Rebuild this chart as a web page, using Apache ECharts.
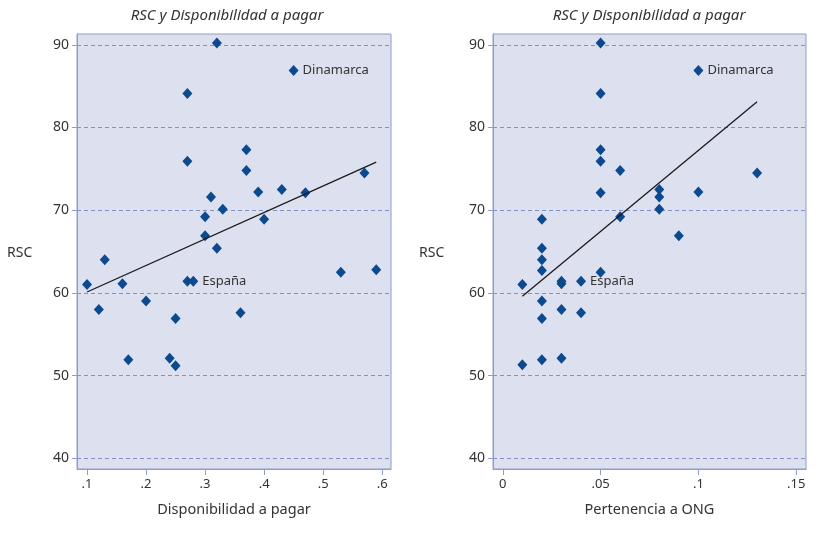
<!DOCTYPE html>
<html><head><meta charset="utf-8">
<script src="https://cdn.jsdelivr.net/npm/echarts@6/dist/echarts.min.js"></script>
<style>html,body{margin:0;padding:0;background:#fff}#c{width:825px;height:549px}</style>
</head><body><div id="c"></div>
<script>
// Data
const rsc       = [90.2, 86.9, 84.1, 77.3, 75.9, 74.8, 74.5, 72.2, 72.5, 72.1, 71.6, 70.1, 69.2, 68.9, 66.9, 65.4, 64.0, 61.0, 61.1, 61.4, 61.4, 62.5, 62.8, 59.0, 58.0, 56.9, 57.6, 51.9, 52.1, 51.2];
const dispPagar = [0.32, 0.45, 0.27, 0.37, 0.27, 0.37, 0.57, 0.39, 0.43, 0.47, 0.31, 0.33, 0.30, 0.40, 0.30, 0.32, 0.13, 0.10, 0.16, 0.27, 0.28, 0.53, 0.59, 0.20, 0.12, 0.25, 0.36, 0.17, 0.24, 0.25];
const pertONG   = [0.05, 0.10, 0.05, 0.05, 0.05, 0.06, 0.13, 0.10, 0.08, 0.05, 0.08, 0.08, 0.06, 0.02, 0.09, 0.02, 0.02, 0.01, 0.03, 0.03, 0.04, 0.05, 0.02, 0.02, 0.03, 0.02, 0.04, 0.02, 0.03, 0.01];
const rscRight  = [90.2, 86.9, 84.1, 77.3, 75.9, 74.8, 74.5, 72.2, 72.5, 72.1, 71.6, 70.1, 69.2, 68.9, 66.9, 65.4, 64.0, 61.0, 61.1, 61.4, 61.4, 62.5, 62.7, 59.0, 58.0, 56.9, 57.6, 51.9, 52.1, 51.3];
const pointLabels = ['', 'Dinamarca', '', '', '', '', '', '', '', '', '', '', '', '', '', '', '', '', '', '', 'España', '', '', '', '', '', '', '', '', ''];
const fitLeftX  = [0.10, 0.59];
const fitLeftY  = [60.1, 75.8];
const fitRightX = [0.01, 0.13];
const fitRightY = [59.6, 83.1];
const yTicks = [40, 50, 60, 70, 80, 90];
const xTicksLeft = [0.1, 0.2, 0.3, 0.4, 0.5, 0.6];
const xTicksRight = [0, 0.05, 0.10, 0.15];
const title = 'RSC y Disponibilidad a pagar';
const yName = 'RSC';
const xNameLeft = 'Disponibilidad a pagar';
const xNameRight = 'Pertenencia a ONG';

const font = 'Noto Sans';
const txt = '#333333';
const frame = '#8e9dcc';
const grid = '#8190c9';
const mark = '#0b4a8f';

function fmtLeft(v){ return ('' + (+v.toFixed(2))).replace(/^0/, ''); }
function fmtRight(v){ if (Math.abs(v) < 1e-9) return '0'; return ('' + (+v.toFixed(2))).replace(/^0/, ''); }

function xAxis(gi, min, max, ticks, fmt, name){
  return {
    type: 'value', gridIndex: gi, min: min, max: max,
    name: name, nameLocation: 'middle', nameGap: 33,
    nameTextStyle: {fontFamily: font, fontSize: 14.5, color: txt},
    axisLine: {show: true, onZero: false, lineStyle: {color: frame, width: 1}},
    axisTick: {show: true, length: 6, customValues: ticks, lineStyle: {color: frame}},
    axisLabel: {customValues: ticks, formatter: fmt, fontFamily: font, fontSize: 13, color: txt, margin: 9},
    splitLine: {show: false}
  };
}
function yAxis(gi){
  return {
    type: 'value', gridIndex: gi, min: 38.7, max: 91.3,
    axisLine: {show: true, onZero: false, lineStyle: {color: frame, width: 1}},
    axisTick: {show: true, length: 5, customValues: yTicks, lineStyle: {color: frame}},
    axisLabel: {customValues: yTicks, fontFamily: font, fontSize: 14, color: txt, margin: 8},
    splitLine: {show: true, lineStyle: {color: grid, type: [4, 3], width: 1}}
  };
}
function pts(xs, ys){ return xs.map((x, i) => ({value: [x, ys[i]], label: {show: !!pointLabels[i], formatter: pointLabels[i]}})); }
function scatter(xi, xs, ys){
  return {
    type: 'scatter', xAxisIndex: xi, yAxisIndex: xi, data: pts(xs, ys),
    symbol: 'diamond', symbolSize: [10, 11],
    itemStyle: {color: mark, opacity: 1},
    label: {position: 'right', distance: 4, fontFamily: font, fontSize: 13, color: txt},
    z: 3
  };
}
function fit(xi, xs, ys){
  return {
    type: 'line', xAxisIndex: xi, yAxisIndex: xi, data: xs.map((x, i) => [x, ys[i]]),
    showSymbol: false, symbol: 'none', lineStyle: {color: '#1a1a1a', width: 1.3}, z: 4, silent: true
  };
}
const ttl = {fontFamily: font, fontSize: 15, fontStyle: 'italic', fontWeight: 'normal', color: txt};
const yn = {fontFamily: font, fontSize: 14, fontWeight: 'normal', color: txt};

const chart = echarts.init(document.getElementById('c'), null, {renderer: 'canvas'});
chart.setOption({
  animation: false,
  backgroundColor: '#ffffff',
  title: [
    {text: title, left: 227, top: 8, padding: 0, textAlign: 'center', textStyle: ttl},
    {text: title, left: 649, top: 8, padding: 0, textAlign: 'center', textStyle: ttl},
    {text: yName, left: 7, top: 246, padding: 0, textStyle: yn},
    {text: yName, left: 419, top: 246, padding: 0, textStyle: yn}
  ],
  grid: [
    {left: 77, right: 434, top: 34, bottom: 80, show: true, backgroundColor: '#dde0ef', borderColor: frame, borderWidth: 1},
    {left: 493, right: 19, top: 34, bottom: 80, show: true, backgroundColor: '#dde0ef', borderColor: frame, borderWidth: 1}
  ],
  xAxis: [
    xAxis(0, 0.083, 0.615, xTicksLeft, fmtLeft, xNameLeft),
    xAxis(1, -0.005, 0.155, xTicksRight, fmtRight, xNameRight)
  ],
  yAxis: [yAxis(0), yAxis(1)],
  series: [
    fit(0, fitLeftX, fitLeftY),
    fit(1, fitRightX, fitRightY),
    scatter(0, dispPagar, rsc),
    scatter(1, pertONG, rscRight)
  ]
});
</script></body></html>
